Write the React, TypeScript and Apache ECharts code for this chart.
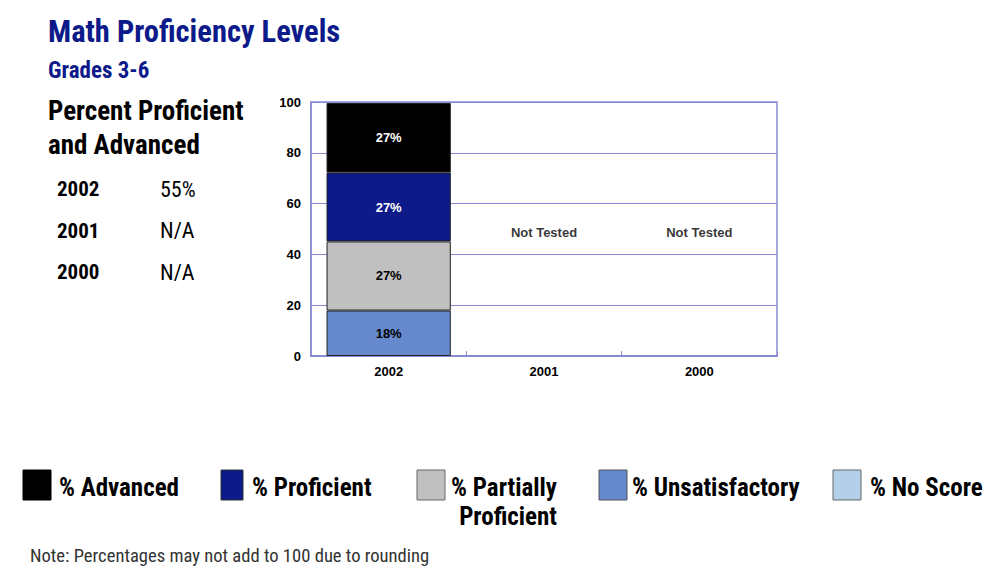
import React, { useEffect, useRef } from "react";
import * as echarts from "echarts";

const categories = ["2002", "2001", "2000"];
const unsatisfactory = [17.9, null, null];
const partiallyProficient = [27.2, null, null];
const proficient = [27.1, null, null];
const advanced = [27.4, null, null];
const noScore = [null, null, null];
const notTestedText = ["", "Not Tested", "Not Tested"];
const notTestedLevel = [null, 48.5, 48.5];
const yTicks = [0, 20, 40, 60, 80, 100];

const summaryYears = ["2002", "2001", "2000"];
const summaryValues = ["55%", "N/A", "N/A"];

const NAVY = "#0c1a8a";
const NARROW = "'Liberation Sans Narrow', 'Arial Narrow', 'Roboto Condensed', 'Liberation Sans', sans-serif";
const SANS = "'Liberation Sans', Arial, Helvetica, sans-serif";
const AXIS = "#8a8ad0";

const legendItems = [
  { name: "% Advanced", color: "#000000", x: 23, w: 28, tx: 59, border: "#000000" },
  { name: "% Proficient", color: NAVY, x: 221, w: 22, tx: 252, border: "#333333" },
  { name: "% Partially\nProficient", color: "#c0c0c0", x: 417, w: 28, tx: 557, border: "#666666" },
  { name: "% Unsatisfactory", color: "#6688cc", x: 599, w: 28, tx: 632, border: "#555555" },
  { name: "% No Score", color: "#b4d0e8", x: 833, w: 28, tx: 870, border: "#666666" },
];

export default function App() {
  const ref = useRef<HTMLDivElement>(null);
  useEffect(() => {
    if (!ref.current) return;
    const chart = echarts.init(ref.current, undefined, { renderer: "svg" });
    const pctLabel = (color: string) => ({
      show: true,
      position: "inside" as const,
      color,
      fontFamily: SANS,
      fontWeight: "bold" as const,
      fontSize: 13,
      formatter: (p: any) => (p.value == null ? "" : Math.round(p.value) + "%"),
    });
    const barBase = {
      type: "bar" as const,
      stack: "total",
      barWidth: "80%",
      itemStyle: { borderColor: "#222", borderWidth: 1 },
    };
    const graphics: any[] = [];
    graphics.push({
      type: "text",
      x: 48,
      y: 94,
      style: {
        text: "Percent Proficient\nand Advanced",
        font: `bold 27px ${NARROW}`,
        fill: "#000",
        lineHeight: 34,
      },
    });
    summaryYears.forEach((y, i) => {
      graphics.push({
        type: "text",
        x: 57,
        y: 189 + i * 41.5,
        style: { text: y, font: `bold 21px ${NARROW}`, fill: "#000", verticalAlign: "middle" },
      });
      graphics.push({
        type: "text",
        x: 160,
        y: 189 + i * 41.5,
        style: { text: summaryValues[i], font: `22px ${NARROW}`, fill: "#000", verticalAlign: "middle" },
      });
    });
    legendItems.forEach((it) => {
      graphics.push({
        type: "rect",
        shape: { x: it.x, y: 470, width: it.w, height: 30 },
        style: { fill: it.color, stroke: it.border, lineWidth: 1 },
      });
      const twoLine = it.name.includes("\n");
      graphics.push({
        type: "text",
        x: it.tx,
        y: 473,
        style: {
          text: it.name,
          font: `bold 25px ${NARROW}`,
          fill: "#000",
          textAlign: twoLine ? "right" : "left",
          verticalAlign: "top",
          lineHeight: 29,
        },
      });
    });
    graphics.push({
      type: "text",
      x: 30,
      y: 556,
      style: {
        text: "Note: Percentages may not add to 100 due to rounding",
        font: `18.6px ${NARROW}`,
        fill: "#333",
        verticalAlign: "middle",
      },
    });

    chart.setOption({
      animation: false,
      backgroundColor: "#ffffff",
      title: [
        {
          text: "Math Proficiency Levels",
          left: 48,
          top: 16,
          padding: 0,
          textStyle: { color: NAVY, fontFamily: NARROW, fontWeight: "bold", fontSize: 30.5 },
        },
        {
          text: "Grades 3-6",
          left: 48,
          top: 59,
          padding: 0,
          textStyle: { color: NAVY, fontFamily: NARROW, fontWeight: "bold", fontSize: 23 },
        },
      ],
      grid: {
        left: 311,
        right: 220,
        top: 102,
        bottom: 227,
        show: true,
        borderColor: AXIS,
        borderWidth: 1.5,
        backgroundColor: "transparent",
      },
      xAxis: {
        type: "category",
        data: categories,
        axisLine: { lineStyle: { color: AXIS, width: 2 } },
        axisTick: { show: true, inside: true, length: 5, lineStyle: { color: AXIS } },
        axisLabel: { color: "#000", fontFamily: SANS, fontWeight: "bold", fontSize: 13, margin: 9 },
      },
      yAxis: {
        type: "value",
        min: 0,
        max: 100,
        interval: 20,
        axisLine: { show: true, lineStyle: { color: AXIS, width: 1.5 } },
        axisTick: { show: false },
        splitLine: { lineStyle: { color: AXIS, width: 1 } },
        axisLabel: {
          color: "#000",
          fontFamily: SANS,
          fontWeight: "bold",
          fontSize: 13,
          margin: 10,
          formatter: (v: number) => (yTicks.includes(v) ? String(v) : ""),
        },
      },
      series: [
        { ...barBase, name: "% Unsatisfactory", data: unsatisfactory, itemStyle: { ...barBase.itemStyle, color: "#6688cc" }, label: pctLabel("#000") },
        { ...barBase, name: "% Partially Proficient", data: partiallyProficient, itemStyle: { ...barBase.itemStyle, color: "#c0c0c0" }, label: pctLabel("#000") },
        { ...barBase, name: "% Proficient", data: proficient, itemStyle: { ...barBase.itemStyle, color: NAVY }, label: pctLabel("#fff") },
        { ...barBase, name: "% Advanced", data: advanced, itemStyle: { ...barBase.itemStyle, color: "#000" }, label: pctLabel("#fff") },
        { ...barBase, name: "% No Score", data: noScore, itemStyle: { ...barBase.itemStyle, color: "#b4d0e8" } },
        {
          type: "scatter",
          name: "notTested",
          symbolSize: 0,
          data: notTestedLevel,
          label: {
            show: true,
            position: "inside",
            color: "#000",
            fontFamily: SANS,
            fontWeight: "bold",
            fontSize: 13,
            formatter: (p: any) => notTestedText[p.dataIndex],
          },
        },
      ],
      graphic: graphics,
    });
    return () => chart.dispose();
  }, []);
  return <div ref={ref} style={{ position: "absolute", left: 0, top: 0, width: 997, height: 583 }} />;
}
